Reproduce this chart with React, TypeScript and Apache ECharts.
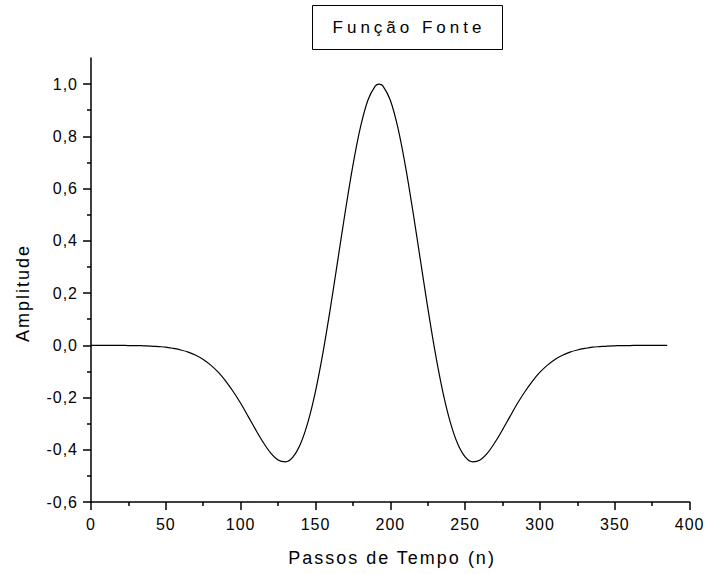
import React, { useEffect, useRef } from "react";
import * as echarts from "echarts";

const steps = [
  0, 5, 10, 15, 20, 25, 30, 35, 40, 45, 50, 55, 60, 65, 70, 75, 80, 85, 90, 95,
  100, 105, 110, 115, 120, 125, 130, 135, 140, 145, 150, 155, 160, 165, 170, 175,
  180, 185, 190, 192.5, 195, 200, 205, 210, 215, 220, 225, 230, 235, 240, 245,
  250, 255, 260, 265, 270, 275, 280, 285, 290, 295, 300, 305, 310, 315, 320, 325,
  330, 335, 340, 345, 350, 355, 360, 365, 370, 375, 380, 385,
];

const amplitude = [
  0, 0, 0, 0, 0, -0.001, -0.001, -0.002, -0.003, -0.005, -0.007, -0.012, -0.018,
  -0.026, -0.038, -0.054, -0.076, -0.103, -0.137, -0.177, -0.222, -0.272, -0.323,
  -0.371, -0.412, -0.439, -0.446, -0.427, -0.377, -0.293, -0.176, -0.028, 0.144,
  0.33, 0.516, 0.689, 0.834, 0.938, 0.993,
  1.0,
  0.993, 0.938, 0.834, 0.689, 0.516, 0.33, 0.144, -0.028, -0.176, -0.293, -0.377,
  -0.427, -0.446, -0.439, -0.412, -0.371, -0.323, -0.272, -0.222, -0.177, -0.137,
  -0.103, -0.076, -0.054, -0.038, -0.026, -0.018, -0.012, -0.007, -0.005, -0.003,
  -0.002, -0.001, -0.001, 0, 0, 0, 0, 0,
];

const yMajorTicks = [-0.6, -0.4, -0.2, 0, 0.2, 0.4, 0.6, 0.8, 1.0];
const yMinorTicks = [-0.5, -0.3, -0.1, 0.1, 0.3, 0.5, 0.7, 0.9];

const titleText = "Função Fonte";
const xTitle = "Passos de Tempo (n)";
const yTitle = "Amplitude";

const FONT = "'Liberation Sans', Arial, sans-serif";

export default function App() {
  const ref = useRef<HTMLDivElement>(null);

  useEffect(() => {
    document.body.style.margin = "0";
    if (!ref.current) return;
    const chart = echarts.init(ref.current, undefined, { renderer: "svg" });
    const data = steps.map((s, i) => [s, amplitude[i]]);
    const fmtY = (v: number) => v.toFixed(1).replace(".", ",");

    chart.setOption({
      animation: false,
      backgroundColor: "#ffffff",
      grid: { left: 91, right: 15, top: 58, bottom: 72, containLabel: false },
      xAxis: {
        type: "value",
        min: 0,
        max: 400,
        interval: 50,
        axisLine: { show: true, onZero: false, lineStyle: { color: "#000", width: 1.5 } },
        axisTick: { show: true, length: 8, lineStyle: { color: "#000", width: 1.5 } },
        minorTick: { show: true, splitNumber: 2, length: 4, lineStyle: { color: "#000", width: 1.5 } },
        splitLine: { show: false },
        minorSplitLine: { show: false },
        axisLabel: {
          color: "#030303",
          fontFamily: FONT,
          fontSize: 16,
          margin: 14,
        },
      },
      yAxis: [
        {
          type: "value",
          min: -0.6,
          max: 1.1,
          interval: 0.2,
          axisLine: { show: true, onZero: false, lineStyle: { color: "#000", width: 1.5 } },
          axisTick: {
            show: true,
            length: 8,
            customValues: yMajorTicks,
            lineStyle: { color: "#000", width: 1.5 },
          },
          splitLine: { show: false },
          axisLabel: {
            color: "#030303",
            fontFamily: FONT,
            fontSize: 16,
            margin: 13,
            customValues: yMajorTicks,
            formatter: (v: number) => fmtY(v),
          },
        },
        {
          type: "value",
          position: "left",
          min: -0.6,
          max: 1.1,
          interval: 0.2,
          axisLine: { show: false },
          axisTick: {
            show: true,
            length: 4,
            customValues: yMinorTicks,
            lineStyle: { color: "#000", width: 1.5 },
          },
          axisLabel: { show: false },
          splitLine: { show: false },
        },
      ],
      series: [
        {
          type: "line",
          data,
          yAxisIndex: 0,
          smooth: 0.3,
          showSymbol: false,
          symbol: "none",
          lineStyle: { color: "#000", width: 1.2 },
        },
      ],
      graphic: [
        {
          type: "rect",
          shape: { x: 312.5, y: 5.5, width: 190, height: 44 },
          style: { fill: "#fff", stroke: "#000", lineWidth: 1 },
        },
        {
          type: "text",
          x: 409,
          y: 27,
          style: {
            text: titleText,
            fill: "#010101",
            font: `17px ${FONT}`,
            align: "center",
            verticalAlign: "middle",
          },
        },
        {
          type: "text",
          x: 392,
          y: 558,
          style: {
            text: xTitle,
            fill: "#020202",
            font: `18px ${FONT}`,
            align: "center",
            verticalAlign: "middle",
          },
        },
        {
          type: "text",
          x: 23,
          y: 293,
          rotation: Math.PI / 2,
          style: {
            text: yTitle,
            fill: "#020202",
            font: `18px ${FONT}`,
            align: "center",
            verticalAlign: "middle",
          },
        },
      ],
    });

    return () => chart.dispose();
  }, []);

  return (
    <>
      <style>{`
        text[fill="#010101"] { letter-spacing: 4px; }
        text[fill="#020202"] { letter-spacing: 2px; }
        text[fill="#030303"] { letter-spacing: 1px; }
      `}</style>
      <div ref={ref} style={{ width: 706, height: 574 }} />
    </>
  );
}
